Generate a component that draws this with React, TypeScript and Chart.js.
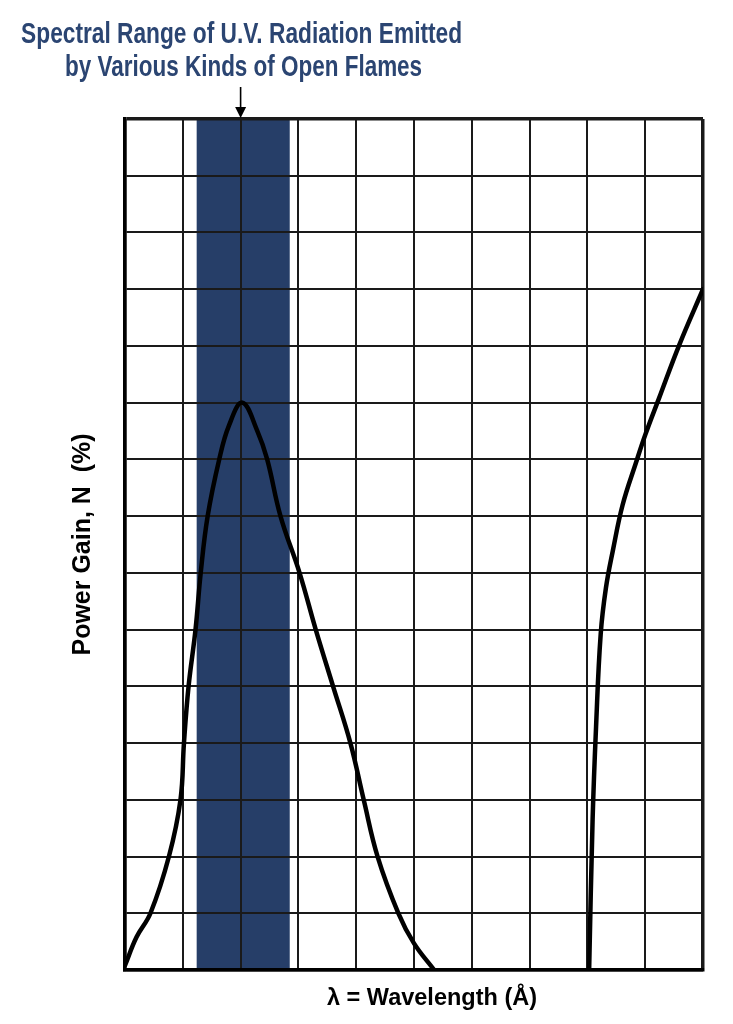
import React, { useEffect, useRef } from "react";
import { Chart, registerables } from "chart.js";

Chart.register(...registerables);

// ---- data ----
const titleLines = ["Spectral Range of U.V. Radiation Emitted", "by Various Kinds of Open Flames"];
const xAxisTitle = "λ = Wavelength (Å)";
const yAxisTitle = "Power Gain, N  (%)";

const flameCurveX = [0, 0.2, 0.44, 0.76, 0.96, 1.02, 1.1, 1.22, 1.31, 1.43, 1.63, 1.8, 2.03, 2.29, 2.46, 2.69, 3.02, 3.3, 3.6, 3.9, 4.13, 4.37, 4.73, 5.0, 5.35];
const flameCurveY = [0.08, 0.58, 1.0, 2.0, 3.0, 4.0, 5.0, 6.0, 7.0, 8.0, 9.0, 9.6, 10.0, 9.5, 9.0, 8.0, 7.0, 6.0, 5.0, 4.0, 3.0, 2.0, 1.0, 0.47, 0];

const visibleCurveX = [8.03, 8.09, 8.15, 8.23, 8.32, 8.44, 8.61, 8.84, 9.0, 9.24, 9.59, 10.0];
const visibleCurveY = [0, 2.65, 4.29, 5.92, 6.73, 7.39, 8.2, 8.94, 9.43, 10.08, 11.02, 12.0];

const uvBand = [1.24, 2.85];
const arrowAt = 2;
const xRange = [0, 10];
const yRange = [0, 15];

const NAVY = "#263e68";
const TITLE_BLUE = "#2b4572";
const FONT = "'Liberation Sans', Arial, sans-serif";

const toPoints = (xs: number[], ys: number[]) => xs.map((x, i) => ({ x, y: ys[i] }));

const decorPlugin = {
  id: "decor",
  beforeDraw(chart: any) {
    const { ctx, chartArea, scales } = chart;
    const x0 = scales.x.getPixelForValue(uvBand[0]);
    const x1 = scales.x.getPixelForValue(uvBand[1]);
    ctx.save();
    ctx.fillStyle = NAVY;
    ctx.fillRect(x0, chartArea.top, x1 - x0, chartArea.bottom - chartArea.top);
    ctx.restore();
  },
  afterDraw(chart: any) {
    const { ctx, chartArea, scales } = chart;
    const ax = scales.x.getPixelForValue(arrowAt);
    ctx.save();
    // arrow
    ctx.strokeStyle = "#000";
    ctx.fillStyle = "#000";
    ctx.lineWidth = 1.6;
    ctx.beginPath();
    ctx.moveTo(ax, chartArea.top - 32);
    ctx.lineTo(ax, chartArea.top - 10);
    ctx.stroke();
    ctx.beginPath();
    ctx.moveTo(ax - 5.5, chartArea.top - 12);
    ctx.lineTo(ax + 5.5, chartArea.top - 12);
    ctx.lineTo(ax, chartArea.top - 1);
    ctx.closePath();
    ctx.fill();
    // title
    ctx.fillStyle = TITLE_BLUE;
    ctx.textAlign = "center";
    ctx.textBaseline = "alphabetic";
    ctx.font = `bold 29px ${FONT}`;
    ctx.fillText(titleLines[0], ax + 1, 43, 441);
    ctx.fillText(titleLines[1], ax + 3, 76, 357);
    // x axis title
    ctx.fillStyle = "#000";
    ctx.font = `bold 24px ${FONT}`;
    ctx.fillText(xAxisTitle, chartArea.left + (chartArea.right - chartArea.left) / 2 + 18, chartArea.bottom + 35, 210);
    // y axis title
    ctx.translate(chartArea.left - 35, chartArea.top + (chartArea.bottom - chartArea.top) / 2);
    ctx.rotate(-Math.PI / 2);
    ctx.font = `bold 26px ${FONT}`;
    ctx.fillText(yAxisTitle, 0, 0, 222);
    ctx.restore();
  },
};

export default function App() {
  const ref = useRef<HTMLCanvasElement | null>(null);
  useEffect(() => {
    document.body.style.margin = "0";
    const canvas = ref.current;
    if (!canvas) return;
    const edgeX = (c: any) => (c.tick && (c.tick.value === xRange[0] || c.tick.value === xRange[1]) ? 3.5 : 2);
    const edgeY = (c: any) => (c.tick && (c.tick.value === yRange[0] || c.tick.value === yRange[1]) ? 3.5 : 2);
    const lineStyle = {
      borderColor: "#000",
      borderWidth: 4.5,
      pointRadius: 0,
      tension: 0.4,
      fill: false,
      borderCapStyle: "round",
      borderJoinStyle: "round",
    };
    const chart = new Chart(canvas, {
      type: "line",
      data: {
        datasets: [
          { label: "Open flames", data: toPoints(flameCurveX, flameCurveY), ...lineStyle },
          { label: "Visible", data: toPoints(visibleCurveX, visibleCurveY), ...lineStyle },
        ],
      },
      options: {
        animation: false,
        responsive: false,
        layout: { padding: { top: 119, right: 30, left: 125, bottom: 54 } },
        plugins: { legend: { display: false }, tooltip: { enabled: false }, title: { display: false } },
        scales: {
          x: {
            type: "linear",
            min: xRange[0],
            max: xRange[1],
            ticks: { display: false, stepSize: 1 },
            grid: { color: "#1a1a1a", lineWidth: edgeX, drawTicks: false },
            border: { display: true, color: "#000", width: 3.5 },
          },
          y: {
            type: "linear",
            min: yRange[0],
            max: yRange[1],
            ticks: { display: false, stepSize: 1 },
            grid: { color: "#1a1a1a", lineWidth: edgeY, drawTicks: false },
            border: { display: true, color: "#000", width: 3.5 },
          },
        },
      },
      plugins: [decorPlugin],
    } as any);
    return () => chart.destroy();
  }, []);
  return <canvas ref={ref} width={733} height={1024} style={{ display: "block" }} />;
}
